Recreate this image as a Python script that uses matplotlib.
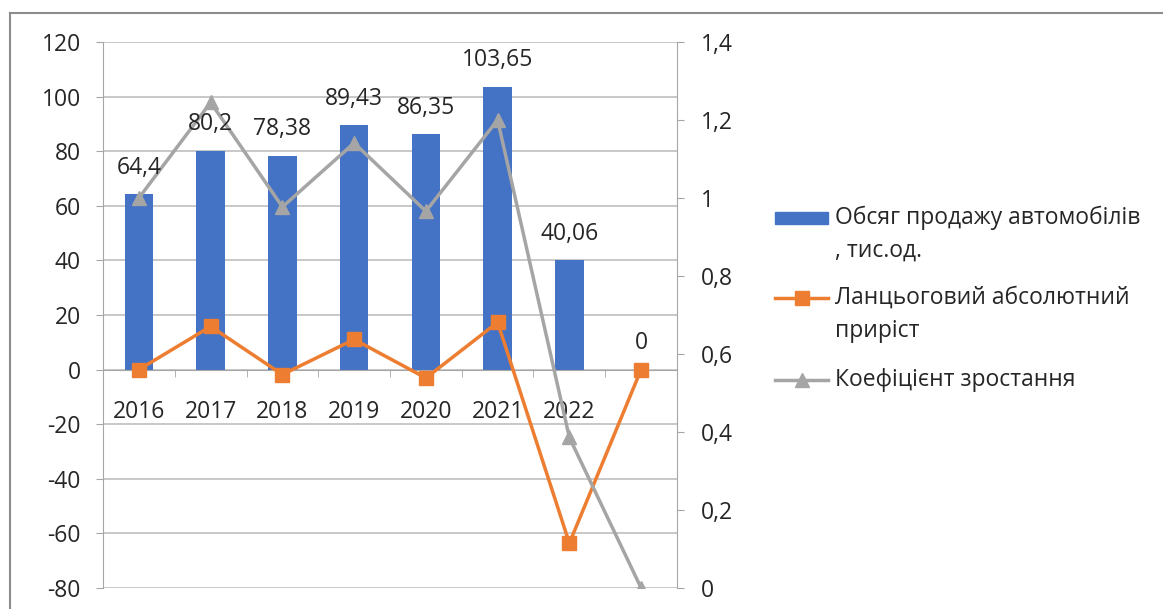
import matplotlib.pyplot as plt
from matplotlib.lines import Line2D
from matplotlib.patches import Rectangle
from matplotlib.ticker import FuncFormatter, FixedLocator

plt.rcParams["font.family"] = ["Open Sans", "DejaVu Sans"]
plt.rcParams["axes.unicode_minus"] = False

years = ["2016", "2017", "2018", "2019", "2020", "2021", "2022", ""]
sales = [64.4, 80.2, 78.38, 89.43, 86.35, 103.65, 40.06, 0]
abs_growth = [0, 15.8, -1.82, 11.05, -3.08, 17.3, -63.59, 0]
growth_rate = [1.0, 1.245, 0.977, 1.141, 0.966, 1.2, 0.386, 0]

series_names = [
    ["Обсяг продажу автомобілів", ", тис.од."],
    ["Ланцьоговий абсолютний", "приріст"],
    ["Коефіцієнт зростання"],
]

BLUE = "#4472C4"
ORANGE = "#ED7D31"
GREY = "#A5A5A5"
GRID = "#BFBFBF"
AXIS = "#A6A6A6"
TEXT = "#262626"
FS = 16.5
W, H = 1163, 609


def comma(v, _pos=None):
    s = f"{v:.2f}".rstrip("0").rstrip(".")
    return s.replace(".", ",")


def px(x, y):
    """pixel position from the top-left corner -> figure fraction"""
    return x / W, 1 - y / H


fig = plt.figure(figsize=(W / 100, H / 100), dpi=100)
ax = fig.add_axes([0.0886, 0.0345, 0.4935, 0.8966])
x = list(range(len(years)))

# outer frame of the chart (top and left edges)
fig.add_artist(Line2D([10 / W, 1], [1 - 12.5 / H] * 2, color="#8C8C8C", lw=1.5))
fig.add_artist(Line2D([10 / W] * 2, [0, 1 - 12.5 / H], color="#8C8C8C", lw=1.5))

ax.bar(x, sales, width=0.4, color=BLUE, zorder=2)
ax.plot(x, abs_growth, color=ORANGE, lw=2.5, marker="s", ms=10, zorder=3)

ax.set_xlim(-0.5, len(years) - 0.5)
ax.set_ylim(-80, 120)
ax.set_yticks(range(-80, 121, 20))
ax.grid(axis="y", color=GRID, lw=1.2)
ax.set_axisbelow(True)

ax.spines["top"].set_visible(False)
ax.spines["right"].set_visible(False)
ax.spines["left"].set_color(AXIS)
ax.spines["bottom"].set_position(("data", 0))
ax.spines["bottom"].set_color(AXIS)

ax.set_xticks(x)
ax.set_xticklabels(years)
ax.xaxis.set_minor_locator(FixedLocator([i + 0.5 for i in range(len(years) - 1)]))
ax.tick_params(axis="x", which="major", length=0, pad=22, labelsize=FS, labelcolor=TEXT)
ax.tick_params(axis="x", which="minor", length=5, color=AXIS, direction="out")
ax.tick_params(axis="y", length=5, color=AXIS, labelsize=FS, labelcolor=TEXT, pad=11)

ax2 = ax.twinx()
ax2.plot(x, growth_rate, color=GREY, lw=2.5, marker="^", ms=10, zorder=4)
ax2.set_ylim(0, 1.4)
ax2.set_yticks([0, 0.2, 0.4, 0.6, 0.8, 1.0, 1.2, 1.4])
ax2.yaxis.set_major_formatter(FuncFormatter(comma))
for side in ["top", "left", "bottom"]:
    ax2.spines[side].set_visible(False)
ax2.spines["right"].set_color(AXIS)
ax2.tick_params(axis="y", length=5, color=AXIS, labelsize=FS, labelcolor=TEXT, pad=12)

# bar value labels go on the top axes so they sit above the lines
for xi, v in zip(x, sales):
    ax2.annotate(comma(v), (xi, v), xycoords=ax.transData, xytext=(0, 14.5),
                 textcoords="offset points", ha="center", va="baseline",
                 fontsize=FS, color=TEXT, zorder=6)

# legend, handle level with the first line of each entry
rows = [218, 298, 380]
hx0, hx1, tx = 775, 828, 835
x0, y0 = px(hx0, rows[0] - 6.5)
x1, y1 = px(hx1, rows[0] + 6.5)
fig.add_artist(Rectangle((x0, y1), x1 - x0, y0 - y1, color=BLUE, transform=fig.transFigure))
for row, color, marker in [(rows[1], ORANGE, "s"), (rows[2], GREY, "^")]:
    (a, yy), (b, _) = px(hx0, row), px(hx1, row)
    fig.add_artist(Line2D([a, b], [yy, yy], color=color, lw=2.5))
    fig.add_artist(Line2D([(a + b) / 2], [yy], color=color, marker=marker, ms=10))
for row, lines in zip(rows, series_names):
    for k, line in enumerate(lines):
        fig.text(*px(tx, row + 33 * k), line, fontsize=FS, color=TEXT,
                 ha="left", va="center")

fig.savefig("out.png", dpi=100)
